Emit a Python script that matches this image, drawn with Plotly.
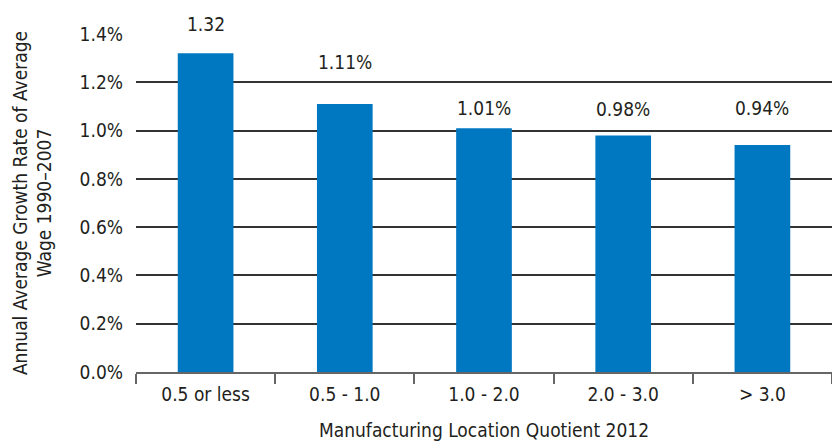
import plotly.graph_objects as go

categories = ["0.5 or less", "0.5 - 1.0", "1.0 - 2.0", "2.0 - 3.0", "> 3.0"]
values = [1.32, 1.11, 1.01, 0.98, 0.94]
value_labels = ["1.32", "1.11%", "1.01%", "0.98%", "0.94%"]
label_shift = [29, 42, 20, 26, 37]
y_ticks = [0.0, 0.2, 0.4, 0.6, 0.8, 1.0, 1.2, 1.4]

FONT = "Liberation Sans Narrow, DejaVu Sans Condensed, Arial Narrow, sans-serif"
TXT = "#231f20"

fig = go.Figure()
fig.add_trace(go.Bar(
    x=categories, y=values, width=0.4,
    marker=dict(color="#0077c1", line=dict(width=0)),
    hoverinfo="skip",
))

for c, v, t, s in zip(categories, values, value_labels, label_shift):
    fig.add_annotation(x=c, y=v, text=t, showarrow=False, yshift=s,
                       yanchor="middle", font=dict(family=FONT, size=19, color=TXT))

fig.update_layout(
    width=832, height=442,
    margin=dict(l=136, r=0, t=34, b=70),
    paper_bgcolor="white", plot_bgcolor="white",
    showlegend=False,
    font=dict(family=FONT, size=19, color=TXT),
    bargap=0.6,
)
fig.update_xaxes(
    type="category", showgrid=False,
    showline=True, linecolor="#666666", linewidth=1.5,
    ticks="outside", tickson="boundaries", ticklen=10, tickcolor="#666666", tickwidth=1.5,
    ticklabelstandoff=4,
    tickfont=dict(family=FONT, size=19, color=TXT),
    title=dict(text="Manufacturing Location Quotient 2012", standoff=20,
               font=dict(family=FONT, size=19, color=TXT)),
)
fig.update_yaxes(
    range=[0, 1.4], tickvals=y_ticks,
    ticktext=[f"{v:.1f}%" for v in y_ticks],
    showgrid=True, gridcolor="#333333", gridwidth=1.6,
    zeroline=False, showline=False,
    ticks="", ticklabelstandoff=12,
    tickfont=dict(family=FONT, size=19, color=TXT),
    title=dict(text="Annual Average Growth Rate of Average<br>Wage 1990–2007", standoff=22,
               font=dict(family=FONT, size=19, color=TXT)),
)

fig.write_html("out.html")
